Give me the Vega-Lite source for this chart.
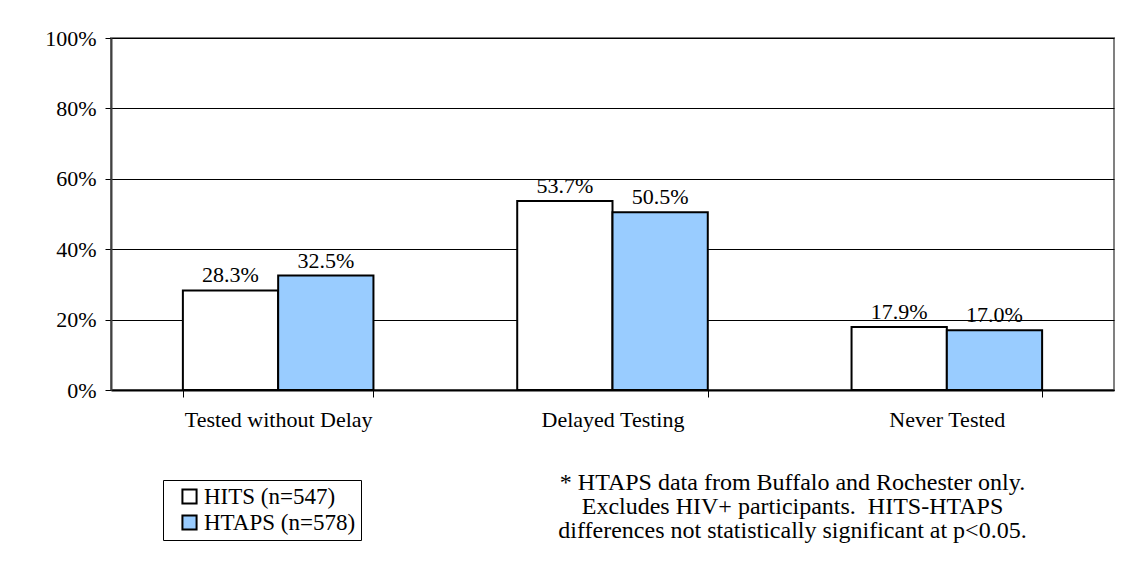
{
  "$schema": "https://vega.github.io/schema/vega-lite/v6.json",
  "width": 1003,
  "height": 352,
  "autosize": {"type": "none"},
  "padding": {"left": 111, "top": 38, "right": 17, "bottom": 184},
  "background": "white",
  "config": {
    "font": "Liberation Serif",
    "view": {"stroke": "#808080", "strokeWidth": 2}
  },
  "title": {
    "text": ["* HTAPS data from Buffalo and Rochester only.", "Excludes HIV+ participants.\u00a0 HITS-HTAPS", "differences not statistically significant at p<0.05."],
    "orient": "bottom",
    "anchor": "middle",
    "frame": "group",
    "dx": 180,
    "offset": -70,
    "font": "Liberation Serif",
    "fontSize": 24,
    "fontWeight": "normal",
    "lineHeight": 24,
    "color": "black"
  },
  "data": {
    "values": [
      {"category": "Tested without Delay", "series": "HITS (n=547)", "value": 0.283, "label": "28.3%"},
      {"category": "Tested without Delay", "series": "HTAPS (n=578)", "value": 0.325, "label": "32.5%"},
      {"category": "Delayed Testing", "series": "HITS (n=547)", "value": 0.537, "label": "53.7%"},
      {"category": "Delayed Testing", "series": "HTAPS (n=578)", "value": 0.505, "label": "50.5%"},
      {"category": "Never Tested", "series": "HITS (n=547)", "value": 0.179, "label": "17.9%"},
      {"category": "Never Tested", "series": "HTAPS (n=578)", "value": 0.170, "label": "17.0%"}
    ]
  },
  "encoding": {
    "x": {
      "field": "category",
      "type": "nominal",
      "sort": ["Tested without Delay", "Delayed Testing", "Never Tested"],
      "scale": {"paddingInner": 0.43, "paddingOuter": 0.215},
      "axis": {
        "title": null,
        "labelAngle": 0,
        "labelFont": "Liberation Serif",
        "labelFontSize": 22,
        "labelColor": "black",
        "labelPadding": 12,
        "labelLimit": 400,
        "tickBand": "extent",
        "ticks": true,
        "tickSize": 7,
        "tickColor": "black",
        "tickWidth": 1,
        "domainColor": "black",
        "domainWidth": 2
      }
    },
    "xOffset": {
      "field": "series",
      "type": "nominal",
      "sort": ["HITS (n=547)", "HTAPS (n=578)"],
      "scale": {"paddingInner": 0, "paddingOuter": 0}
    },
    "y": {
      "field": "value",
      "type": "quantitative",
      "scale": {"domain": [0, 1], "nice": false},
      "axis": {
        "title": null,
        "format": ".0%",
        "values": [0, 0.2, 0.4, 0.6, 0.8, 1],
        "grid": true,
        "gridColor": "black",
        "gridWidth": 1,
        "gridOpacity": 1,
        "labelFont": "Liberation Serif",
        "labelFontSize": 22,
        "labelColor": "black",
        "labelPadding": 9,
        "tickSize": 6,
        "tickColor": "black",
        "tickWidth": 1,
        "domainColor": "#404040",
        "domainWidth": 2
      }
    }
  },
  "layer": [
    {
      "mark": {"type": "bar", "stroke": "black", "strokeWidth": 2},
      "encoding": {
        "color": {
          "field": "series",
          "type": "nominal",
          "scale": {"domain": ["HITS (n=547)", "HTAPS (n=578)"], "range": ["#FFFFFF", "#99CCFF"]},
          "legend": {
            "orient": "none",
            "legendX": 52,
            "legendY": 442,
            "title": null,
            "strokeColor": "black",
            "padding": 5,
            "symbolType": "square",
            "symbolSize": 200,
            "symbolStrokeColor": "black",
            "symbolStrokeWidth": 2,
            "symbolOpacity": 1,
            "symbolOffset": 10,
            "labelFont": "Liberation Serif",
            "labelFontSize": 23,
            "labelColor": "black",
            "labelOffset": 3,
            "labelLimit": 400,
            "rowPadding": 2
          }
        }
      }
    },
    {
      "mark": {"type": "text", "baseline": "bottom", "dy": -3, "font": "Liberation Serif", "fontSize": 22, "color": "black"},
      "encoding": {"text": {"field": "label"}}
    }
  ]
}
